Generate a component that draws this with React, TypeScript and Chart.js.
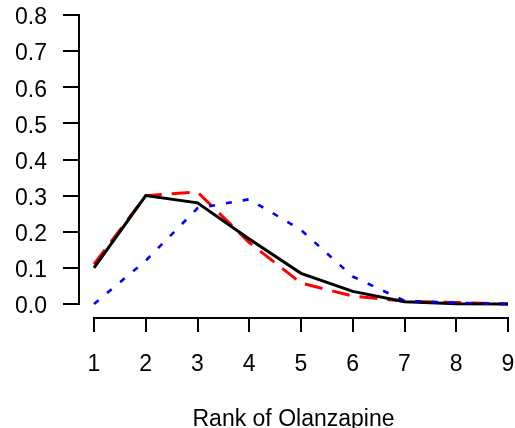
import React, { useEffect, useRef } from "react";
import { Chart, registerables } from "chart.js";

Chart.register(...registerables);

const ranks = [1, 2, 3, 4, 5, 6, 7, 8, 9];
const blackSeries = [0.10, 0.30, 0.28, 0.18, 0.085, 0.035, 0.006, 0.001, 0.0];
const redSeries = [0.11, 0.30, 0.31, 0.17, 0.058, 0.022, 0.008, 0.004, 0.0];
const blueSeries = [0.0, 0.12, 0.265, 0.29, 0.205, 0.076, 0.009, 0.003, 0.0];
const yTickValues = [0, 0.1, 0.2, 0.3, 0.4, 0.5, 0.6, 0.7, 0.8];
const xTitle = "Rank of Olanzapine";

const FONT = "'Liberation Sans', Arial, sans-serif";

const axisLinesPlugin = {
  id: "axisLines",
  afterDraw(chart: any) {
    const { ctx, chartArea } = chart;
    const xs = chart.scales.x;
    const ys = chart.scales.y;
    ctx.save();
    ctx.strokeStyle = "#000";
    ctx.lineWidth = 2;
    ctx.lineCap = "square";
    ctx.beginPath();
    const bx = Math.round(chartArea.bottom);
    ctx.moveTo(Math.round(xs.getPixelForValue(ranks[0])), bx);
    ctx.lineTo(Math.round(xs.getPixelForValue(ranks[ranks.length - 1])), bx);
    const lx = Math.round(chartArea.left);
    ctx.moveTo(lx, Math.round(ys.getPixelForValue(yTickValues[0])));
    ctx.lineTo(lx, Math.round(ys.getPixelForValue(yTickValues[yTickValues.length - 1])));
    ctx.stroke();
    ctx.restore();
  },
};

export default function App() {
  const ref = useRef<HTMLCanvasElement>(null);
  useEffect(() => {
    document.body.style.margin = "0";
    const canvas = ref.current;
    if (!canvas) return;
    const chart = new Chart(canvas, {
      type: "line",
      data: {
        labels: ranks,
        datasets: [
          {
            data: ranks.map((r, i) => ({ x: r, y: blueSeries[i] })),
            borderColor: "#0000ff",
            borderWidth: 2.6,
            borderDash: [6, 11],
            pointRadius: 0,
            fill: false,
            tension: 0,
          },
          {
            data: ranks.map((r, i) => ({ x: r, y: blackSeries[i] })),
            borderColor: "#000000",
            borderWidth: 3,
            pointRadius: 0,
            fill: false,
            tension: 0,
          },
          {
            data: ranks.map((r, i) => ({ x: r, y: redSeries[i] })),
            borderColor: "#ff0000",
            borderWidth: 3,
            borderDash: [18, 10],
            pointRadius: 0,
            fill: false,
            tension: 0,
          },
        ],
      },
      options: {
        responsive: false,
        animation: false,
        devicePixelRatio: 1,
        layout: { padding: { left: 0, right: 7, top: 15, bottom: 0 } },
        plugins: { legend: { display: false }, tooltip: { enabled: false } },
        scales: {
          x: {
            type: "linear",
            min: 1 - 15 / 51.75,
            max: 9,
            afterBuildTicks: (s: any) => {
              s.ticks = ranks.map((v) => ({ value: v }));
            },
            afterFit: (s: any) => {
              s.height = 110;
              s.paddingLeft = 0;
              s.paddingRight = 0;
            },
            border: { display: false },
            grid: {
              display: true,
              drawOnChartArea: false,
              drawTicks: true,
              tickLength: 14,
              color: "#000",
              lineWidth: 2,
            },
            ticks: {
              autoSkip: false,
              maxRotation: 0,
              padding: 19,
              color: "#000",
              font: { family: FONT, size: 23 },
              callback: (v: any) => String(v),
            },
            title: {
              display: true,
              text: xTitle,
              color: "#000",
              font: { family: FONT, size: 23, lineHeight: 1 },
              padding: { top: 0, bottom: -3 },
            },
          },
          y: {
            type: "linear",
            min: -14 / 361.25,
            max: 0.8,
            afterBuildTicks: (s: any) => {
              s.ticks = yTickValues.map((v) => ({ value: v }));
            },
            afterFit: (s: any) => {
              s.width = 79;
              s.paddingTop = 0;
              s.paddingBottom = 0;
            },
            border: { display: false },
            grid: {
              display: true,
              drawOnChartArea: false,
              drawTicks: true,
              tickLength: 16,
              color: "#000",
              lineWidth: 2,
            },
            ticks: {
              autoSkip: false,
              padding: 16,
              labelOffset: 3,
              color: "#000",
              font: { family: FONT, size: 23 },
              callback: (v: any) => Number(v).toFixed(1),
            },
          },
        },
      },
      plugins: [axisLinesPlugin],
    });
    return () => chart.destroy();
  }, []);
  return (
    <div style={{ width: 515, height: 428, background: "#fff" }}>
      <canvas ref={ref} width={515} height={428} style={{ display: "block" }} />
    </div>
  );
}
